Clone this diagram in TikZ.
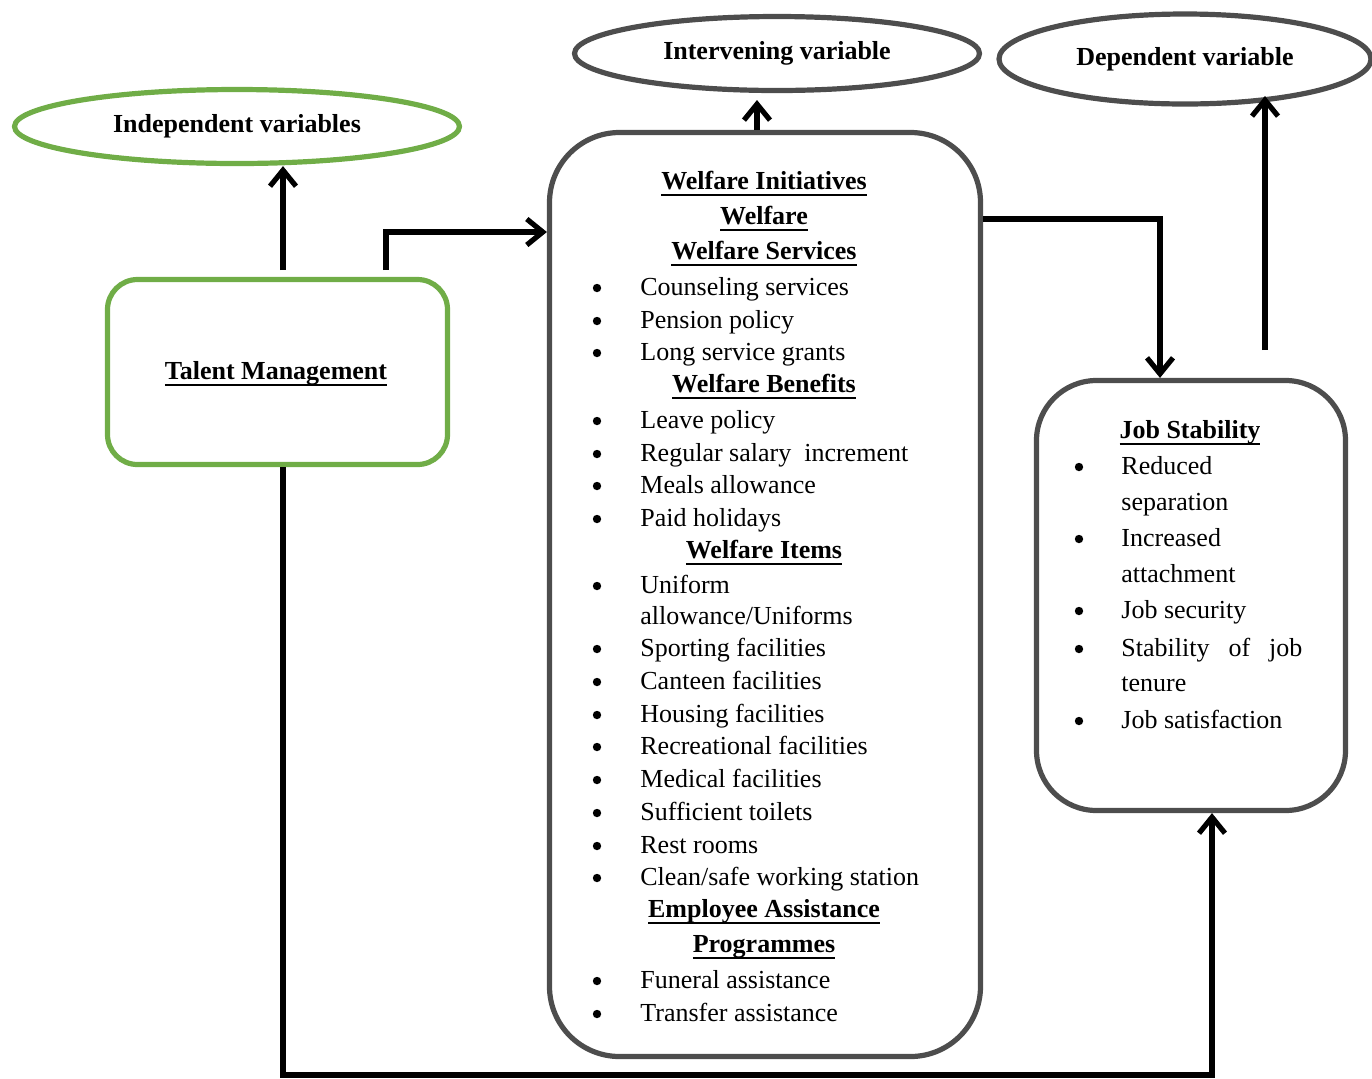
\documentclass[tikz,border=0pt]{standalone}
\usepackage{fontspec}
\setmainfont{Liberation Serif}
\newcommand{\uln}[1]{\setbox0\hbox{#1}\rlap{\vrule width\wd0 height -2.2pt depth 3.3pt}\box0}
\usetikzlibrary{shapes.geometric,arrows.meta}
\definecolor{tmgreen}{HTML}{70AD47}
\definecolor{bgray}{HTML}{4D4D4D}
\tikzset{
  every node/.style={font=\fontsize{13pt}{15pt}\selectfont, inner sep=0pt},
  gellipse/.style={ellipse, draw=tmgreen, line width=2.6pt},
  kellipse/.style={ellipse, draw=bgray, line width=2.6pt},
  gbox/.style={draw=tmgreen, line width=2.6pt, rounded corners=15pt},
  kbox/.style={draw=bgray, line width=2.6pt},
  arr/.style={line width=2.6pt, -{Straight Barb[length=8pt,width=13pt,line width=2.6pt]}},
  item/.style={anchor=mid west, yshift=-2pt},
  bul/.style={circle, fill=black, minimum size=4.2pt, yshift=-0.5pt},
  head/.style={anchor=mid, yshift=-2pt, font=\fontsize{13pt}{15pt}\selectfont\bfseries},
}
\begin{document}
\begin{tikzpicture}[x=0.5pt,y=-0.5pt]
\useasboundingbox (0,0) rectangle (1372,1078);
% ellipses
\node[gellipse, minimum width=222.5pt, minimum height=37pt] (iv) at (237,126.5) {\bfseries Independent variables};
\node[kellipse, minimum width=202.5pt, minimum height=37pt] (inv) at (777,53.5) {\bfseries Intervening variable};
\node[kellipse, minimum width=186pt, minimum height=45pt] (dv) at (1185,59) {\bfseries Dependent variable};
% boxes
\node[gbox, minimum width=170pt, minimum height=92.5pt] (tm) at (277.5,372) {};
\node[head] (tmt) at (276,371) {\uln{Talent Management}};
\node[kbox, rounded corners=35pt, minimum width=215.5pt, minimum height=462pt] (wf) at (765,594.5) {};
\node[kbox, rounded corners=30pt, minimum width=154.5pt, minimum height=215pt] (js) at (1191,595.5) {};
% welfare headings
\foreach \y/\t [count=\i] in {181/Welfare Initiatives, 216/Welfare, 251/Welfare Services, 384/Welfare Benefits, 550/Welfare Items, 909/Employee Assistance, 944/Programmes}
  \node[head] (wh\i) at (764,\y) {\uln{\t}};
% welfare items with bullets
\foreach \y/\t [count=\i] in {287/Counseling services, 320/Pension policy, 352/Long service grants, 420/Leave policy, 453/Regular salary \ increment, 485/Meals allowance, 518/Paid holidays, 585/Uniform, 648/Sporting facilities, 681/Canteen facilities, 714/Housing facilities, 746/Recreational facilities, 779/Medical facilities, 812/Sufficient toilets, 845/Rest rooms, 877/{Clean/safe working station}, 980/Funeral assistance, 1013/Transfer assistance}
{
  \node[bul] (wb\i) at (597,\y) {};
  \node[item] (wi\i) at (640,\y) {\t};
}
\node[item] (wc1) at (640,616) {allowance/Uniforms};
% job stability
\node[head] (jsh) at (1190,430) {\uln{Job Stability}};
\foreach \y/\t [count=\i] in {466/Reduced, 538/Increased, 610/Job security, 648/{\hbox to 90.5pt{Stability\hfill of\hfill job}}, 720/Job satisfaction}
{
  \node[bul] (jb\i) at (1079,\y) {};
  \node[item] (ji\i) at (1121,\y) {\t};
}
\foreach \y/\t [count=\i] in {502/separation, 574/attachment, 683/tenure}
  \node[item] (jc\i) at (1121,\y) {\t};
% connector coordinates
\coordinate (a1) at (283,270);
\coordinate (b1) at (386,270);
\coordinate (b2) at (386,232);
\coordinate (c1) at (757,100);
\coordinate (d1) at (1160,219);
\coordinate (e1) at (1265,350);
\coordinate (e2) at (1265,96);
\coordinate (f1) at (283,1075);
\coordinate (f2) at (1212,1075);
% connectors
\draw[arr] (a1) -- (a1 |- iv.south);
\draw[arr] (b1) -- (b2) -- (b2 -| wf.west);
\draw[arr] (c1 |- wf.north) -- (c1);
\draw[arr] (d1 -| wf.east) -- (d1) -- (d1 |- js.north);
\draw[arr] (e1) -- (e2);
\draw[arr] (f1 |- tm.south) -- (f1) -- (f2) -- (f2 |- js.south);
\end{tikzpicture}
\end{document}
